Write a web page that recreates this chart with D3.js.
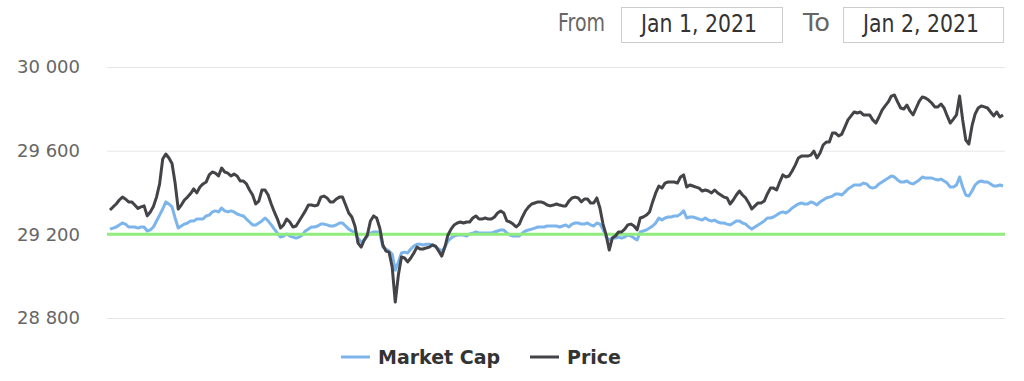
<!DOCTYPE html>
<html>
<head>
<meta charset="utf-8">
<script src="https://cdn.jsdelivr.net/npm/d3@7"></script>
<style>
  body { margin: 0; background: #fff; }
  svg { display: block; }
</style>
</head>
<body>
<div class="chart"></div>
<script>
var svgWidth = 1024;
var svgHeight = 381;

// 5 minute readings, Jan 1 2021 00:00 -> Jan 2 2021 00:00
var startTime = new Date(2021, 0, 1, 0, 0);
var stepMinutes = 5;

var price = [
  29316, 29331, 29345, 29364, 29378, 29369, 29355, 29355, 29340, 29324,
  29331, 29336, 29288, 29307, 29333, 29378, 29441, 29560, 29584, 29565,
  29539, 29445, 29321, 29340, 29364, 29378, 29395, 29417, 29398, 29426,
  29441, 29450, 29484, 29498, 29493, 29479, 29517, 29498, 29493, 29479,
  29488, 29479, 29455, 29455, 29441, 29412, 29388, 29345, 29359, 29412,
  29412, 29388, 29345, 29307, 29273, 29230, 29245, 29273, 29259, 29235,
  29240, 29264, 29288, 29312, 29340, 29340, 29336, 29340, 29378, 29383,
  29374, 29355, 29355, 29369, 29378, 29378, 29340, 29302, 29283, 29240,
  29158, 29139, 29173, 29197, 29264, 29288, 29278, 29230, 29149, 29120,
  29115, 29044, 28876, 29005, 29092, 29087, 29068, 29087, 29111, 29139,
  29130, 29130, 29135, 29139, 29149, 29144, 29120, 29096, 29139, 29197,
  29225, 29245, 29254, 29259, 29254, 29259, 29259, 29278, 29288, 29273,
  29273, 29278, 29273, 29273, 29283, 29302, 29312, 29302, 29264, 29259,
  29249, 29235, 29249, 29283, 29312, 29331, 29345, 29350, 29355, 29355,
  29350, 29340, 29336, 29340, 29345, 29340, 29336, 29336, 29359, 29374,
  29378, 29374, 29355, 29369, 29369, 29350, 29350, 29374, 29326, 29249,
  29197, 29125, 29182, 29192, 29211, 29211, 29225, 29245, 29249, 29240,
  29221, 29278, 29283, 29292, 29307, 29355, 29398, 29431, 29421, 29445,
  29450, 29450, 29450, 29445, 29474, 29484, 29426, 29436, 29431, 29426,
  29421, 29407, 29412, 29407, 29398, 29412, 29398, 29388, 29378, 29374,
  29345, 29364, 29388, 29407, 29388, 29374, 29350, 29321, 29336, 29350,
  29350, 29359, 29393, 29421, 29421, 29412, 29450, 29484, 29474, 29479,
  29503, 29531, 29565, 29574, 29574, 29574, 29579, 29598, 29565, 29589,
  29627, 29641, 29641, 29684, 29684, 29670, 29679, 29713, 29747, 29766,
  29785, 29780, 29785, 29771, 29771, 29771, 29747, 29732, 29761, 29794,
  29814, 29833, 29861, 29866, 29833, 29804, 29799, 29818, 29790, 29771,
  29804, 29837, 29857, 29852, 29842, 29828, 29809, 29809, 29823, 29804,
  29766, 29732, 29751, 29771, 29861, 29747, 29651, 29632, 29718, 29775,
  29804, 29814, 29809, 29804, 29785, 29766, 29785, 29761, 29771
];

var marketCap = [
  29225, 29230, 29235, 29245, 29254, 29249, 29235, 29235, 29235, 29230,
  29235, 29235, 29216, 29221, 29235, 29264, 29292, 29321, 29355, 29345,
  29331, 29278, 29230, 29240, 29249, 29254, 29264, 29264, 29273, 29273,
  29273, 29288, 29292, 29307, 29312, 29307, 29326, 29312, 29307, 29312,
  29307, 29297, 29292, 29288, 29273, 29259, 29245, 29245, 29254, 29264,
  29278, 29264, 29245, 29225, 29206, 29187, 29192, 29202, 29192, 29187,
  29182, 29187, 29197, 29216, 29225, 29235, 29235, 29240, 29249, 29249,
  29245, 29240, 29240, 29245, 29254, 29254, 29240, 29225, 29216, 29206,
  29182, 29163, 29173, 29192, 29206, 29211, 29211, 29206, 29139, 29130,
  29120, 29106, 29029, 29068, 29111, 29115, 29111, 29130, 29144, 29153,
  29153, 29149, 29153, 29153, 29149, 29139, 29130, 29120, 29139, 29168,
  29182, 29192, 29197, 29197, 29197, 29192, 29202, 29206, 29211, 29206,
  29206, 29206, 29206, 29206, 29211, 29216, 29221, 29221, 29206, 29197,
  29192, 29192, 29192, 29206, 29216, 29221, 29225, 29230, 29235, 29235,
  29235, 29240, 29240, 29240, 29240, 29235, 29240, 29245, 29235, 29249,
  29254, 29254, 29249, 29249, 29254, 29245, 29240, 29254, 29249, 29225,
  29187, 29173, 29182, 29182, 29187, 29182, 29187, 29197, 29192, 29182,
  29173, 29211, 29216, 29221, 29230, 29240, 29254, 29278, 29268, 29278,
  29283, 29283, 29288, 29288, 29297, 29312, 29278, 29283, 29283, 29278,
  29273, 29268, 29278, 29268, 29264, 29268, 29259, 29254, 29254, 29249,
  29245, 29254, 29264, 29264, 29254, 29249, 29235, 29225, 29235, 29245,
  29254, 29264, 29278, 29278, 29283, 29292, 29302, 29307, 29302, 29312,
  29326, 29336, 29345, 29350, 29345, 29345, 29355, 29350, 29340, 29355,
  29364, 29374, 29378, 29383, 29393, 29393, 29388, 29402, 29417, 29426,
  29436, 29436, 29436, 29445, 29441, 29426, 29421, 29426, 29441, 29450,
  29460, 29469, 29479, 29474, 29460, 29450, 29450, 29455, 29445, 29441,
  29450, 29460, 29474, 29469, 29469, 29469, 29464, 29460, 29464, 29455,
  29445, 29426, 29426, 29436, 29474, 29426, 29388, 29383, 29407, 29436,
  29450, 29455, 29450, 29450, 29441, 29431, 29431, 29436, 29431
];

var referenceLevel = 29200;
var yTicks = [28800, 29200, 29600, 30000];
var fromLabel = "Jan 1, 2021";
var toLabel = "Jan 2, 2021";

var times = price.map((d, i) => d3.timeMinute.offset(startTime, i * stepMinutes));

var plot = { left: 107, right: 1005, top: 67, bottom: 318 };

var svg = d3.select(".chart")
  .append("svg")
  .attr("width", svgWidth)
  .attr("height", svgHeight);

var xScale = d3.scaleTime()
  .domain(d3.extent(times))
  .range([110, 1003]);

var yScale = d3.scaleLinear()
  .domain([28800, 30000])
  .range([plot.bottom, plot.top]);

var numFmt = d3.formatLocale({ decimal: ".", thousands: " ", grouping: [3], currency: ["", ""] }).format(",");

// y axis with gridlines
var yAxis = svg.append("g")
  .attr("transform", `translate(${plot.left}, 0)`)
  .call(d3.axisLeft(yScale)
    .tickValues(yTicks)
    .tickSize(-(plot.right - plot.left))
    .tickPadding(27)
    .tickFormat(numFmt));

yAxis.select(".domain").remove();
yAxis.selectAll(".tick line")
  .attr("stroke", "#e6e6e6")
  .attr("stroke-width", 1);
yAxis.selectAll(".tick text")
  .attr("fill", "#666")
  .style("font-family", "DejaVu Sans")
  .style("font-size", "18px");

var line = d3.line()
  .x((d, i) => xScale(times[i]))
  .y(d => yScale(d));

svg.append("path")
  .datum(marketCap)
  .attr("fill", "none")
  .attr("stroke", "#7cb5ec")
  .attr("stroke-width", 3)
  .attr("stroke-linejoin", "round")
  .attr("d", line);

svg.append("line")
  .attr("x1", plot.left)
  .attr("x2", plot.right)
  .attr("y1", yScale(referenceLevel))
  .attr("y2", yScale(referenceLevel))
  .attr("stroke", "#90ed7d")
  .attr("stroke-width", 3);

svg.append("path")
  .datum(price)
  .attr("fill", "none")
  .attr("stroke", "#434348")
  .attr("stroke-width", 3)
  .attr("stroke-linejoin", "round")
  .attr("d", line);

// range selector header
var header = svg.append("g")
  .style("font-family", "DejaVu Sans")
  .style("font-size", "24px");

header.append("text")
  .attr("x", 558).attr("y", 31)
  .attr("fill", "#666")
  .attr("textLength", 47).attr("lengthAdjust", "spacingAndGlyphs")
  .text("From");

header.append("rect")
  .attr("x", 621.5).attr("y", 7.5).attr("width", 161).attr("height", 35)
  .attr("fill", "#fff").attr("stroke", "#ccc");

header.append("text")
  .attr("x", 641).attr("y", 31.5)
  .attr("fill", "#333")
  .attr("textLength", 116).attr("lengthAdjust", "spacingAndGlyphs")
  .text(fromLabel);

header.append("text")
  .attr("x", 803).attr("y", 31)
  .attr("fill", "#666")
  .attr("textLength", 27).attr("lengthAdjust", "spacingAndGlyphs")
  .text("To");

header.append("rect")
  .attr("x", 843.5).attr("y", 7.5).attr("width", 160).attr("height", 35)
  .attr("fill", "#fff").attr("stroke", "#ccc");

header.append("text")
  .attr("x", 863).attr("y", 31.5)
  .attr("fill", "#333")
  .attr("textLength", 116).attr("lengthAdjust", "spacingAndGlyphs")
  .text(toLabel);

// legend
var legendItems = [
  { name: "Market Cap", color: "#7cb5ec", x: 341 },
  { name: "Price", color: "#434348", x: 530 }
];

var legend = svg.append("g")
  .selectAll("g")
  .data(legendItems)
  .enter()
  .append("g")
  .attr("transform", d => `translate(${d.x}, 357)`);

legend.append("line")
  .attr("x1", 0).attr("x2", 29)
  .attr("stroke", d => d.color)
  .attr("stroke-width", 3);

legend.append("text")
  .attr("x", 37).attr("y", 7)
  .attr("fill", "#333")
  .style("font-family", "DejaVu Sans")
  .style("font-size", "19px")
  .style("font-weight", "bold")
  .text(d => d.name);
</script>
</body>
</html>
